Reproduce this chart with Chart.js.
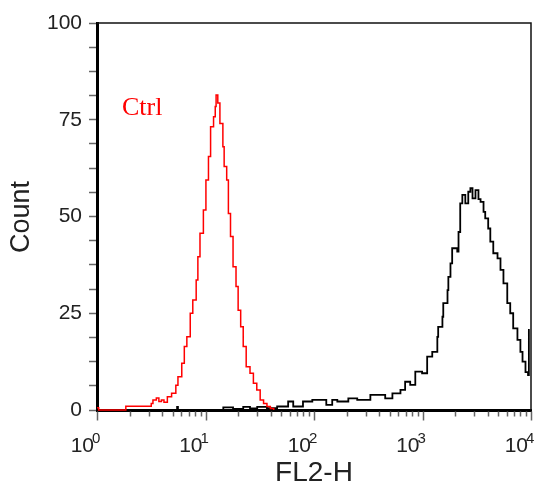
<!DOCTYPE html>
<html>
<head>
<meta charset="utf-8">
<script src="https://cdn.jsdelivr.net/npm/chart.js@4/dist/chart.umd.min.js"></script>
<style>
  html, body { margin: 0; padding: 0; background: #fff; }
  #wrap { width: 535px; height: 491px; }
</style>
</head>
<body>
<div id="wrap"><canvas id="c" width="535" height="491"></canvas></div>
<script>
// FL2-H histograms, 1024 channels spread over four log decades (256 channels per decade).
// Each pair marks the channel where a histogram step starts and the count held from there.
const ctrlChannels = [0, 4, 68, 128, 132, 140, 146, 152, 158, 166,
  176, 186, 191, 200, 206, 212, 220, 226, 234, 238,
  243, 251, 257, 263, 268, 275, 279, 281, 285, 290,
  297, 300, 306, 310, 315, 321, 328, 333, 339, 345,
  352, 361, 369, 377, 385, 393, 401, 409, 417];
const ctrlCounts = [0.6, 0, 1, 1.7, 2.6, 3.1, 2.2, 2.6, 2.0, 3.4,
  4.3, 6.4, 8.6, 12.1, 16.4, 18.9, 25, 28.4, 33.6, 39.6,
  45.7, 51.7, 59.4, 65.5, 73.2, 75.8, 78.4, 81.4, 79.3, 74,
  68, 62.9, 59.4, 50.8, 44.8, 37, 31.9, 25.8, 21.5, 16.4,
  11.2, 9.5, 6.9, 5.2, 2.6, 1.7, 0.9, 0.4, 0];

const sampleChannels = [186, 189, 191, 298, 321, 345, 361, 378, 401, 425,
  451, 463, 486, 508, 541, 555, 567, 593, 614, 645,
  680, 697, 716, 727, 739, 751, 767, 779, 791, 803,
  805, 815, 817, 827, 829, 834, 838, 850, 853, 857,
  862, 869, 876, 881, 886, 893, 900, 905, 912, 916,
  923, 928, 935, 945, 952, 959, 968, 975, 982, 992,
  999, 1004, 1011, 1017, 1019, 1021];
const sampleCounts = [0, 0.8, 0, 0.7, 0.3, 0.8, 0.4, 0.8, 0.5, 0.9,
  2.2, 0.9, 2.2, 2.6, 1.3, 2.6, 2.2, 3.0, 2.6, 3.9,
  3.0, 4.3, 5.2, 7.3, 6.5, 9.9, 9.5, 13.8, 15, 18.9,
  21.5, 24.1, 27.6, 31, 34.4, 37.9, 41.8, 40.9, 46, 53.4,
  55.6, 53.4, 56.4, 57.3, 54.7, 56.8, 54.5, 53.8, 51.2, 49.5,
  46.9, 43.5, 40.5, 39.2, 36.2, 32.7, 27.6, 25, 21.1, 18.1,
  15, 12.5, 9.8, 9.0, 20.7, 20.7];

const channelsPerDecade = 256;
const yTickLabels = [0, 25, 50, 75, 100];
const yMinorPerMajor = 4;
const xDecades = [0, 1, 2, 3, 4];
const xTickBase = '10';
const xTitle = 'FL2-H';
const yTitle = 'Count';
const ctrlName = 'Ctrl';

const toPoints = (chs, counts) =>
  chs.map((ch, i) => ({ x: Math.pow(10, ch / channelsPerDecade), y: counts[i] }));

const sansFont = '"Liberation Sans", Arial, sans-serif';

// Top/right frame, log tick marks, superscript decade labels and titles
const frameAndLabels = {
  id: 'frameAndLabels',
  afterDraw(chart) {
    const { ctx, chartArea: a, scales: { x } } = chart;
    ctx.save();

    ctx.strokeStyle = '#111';
    ctx.lineWidth = 1.5;
    ctx.beginPath();
    ctx.moveTo(a.left, a.top);
    ctx.lineTo(a.right, a.top);
    ctx.lineTo(a.right, a.bottom);
    ctx.stroke();

    ctx.strokeStyle = '#666';
    ctx.lineWidth = 1.5;
    xDecades.forEach((d, i) => {
      const last = i === xDecades.length - 1;
      for (let m = 1; m <= (last ? 1 : 9); m++) {
        const px = Math.round(x.getPixelForValue(m * Math.pow(10, d))) + 0.5;
        const len = m === 1 ? 9 : 5;
        ctx.beginPath();
        ctx.moveTo(px, a.bottom + 1.5);
        ctx.lineTo(px, a.bottom + 1.5 + len);
        ctx.stroke();
      }
    });

    ctx.fillStyle = '#222';
    ctx.textBaseline = 'alphabetic';
    xDecades.forEach(d => {
      const px = x.getPixelForValue(Math.pow(10, d));
      ctx.font = '21px ' + sansFont;
      ctx.textAlign = 'right';
      ctx.fillText(xTickBase, px - 3, 452);
      ctx.font = '15px ' + sansFont;
      ctx.textAlign = 'left';
      ctx.fillText(String(d), px - 5, 443);
    });

    ctx.font = '28px ' + sansFont;
    ctx.textAlign = 'center';
    ctx.fillText(xTitle, x.getPixelForValue(100), 481);

    ctx.save();
    ctx.translate(22, 217);
    ctx.rotate(-Math.PI / 2);
    ctx.font = '27px ' + sansFont;
    ctx.textBaseline = 'middle';
    ctx.fillText(yTitle, 0, 0);
    ctx.restore();

    ctx.fillStyle = '#ff0000';
    ctx.font = '26px "Liberation Serif", "Times New Roman", serif';
    ctx.textAlign = 'left';
    ctx.fillText(ctrlName, a.left + 25, 115);

    ctx.restore();
  }
};

new Chart(document.getElementById('c'), {
  type: 'line',
  data: {
    datasets: [
      {
        label: ctrlName,
        data: toPoints(ctrlChannels, ctrlCounts),
        borderColor: '#ff0000',
        borderWidth: 1.5,
        stepped: 'before',
        pointRadius: 0,
        fill: false,
        clip: 4
      },
      {
        label: 'Sample',
        data: toPoints(sampleChannels, sampleCounts),
        borderColor: '#000000',
        borderWidth: 1.8,
        stepped: 'before',
        pointRadius: 0,
        fill: false,
        clip: 4
      }
    ]
  },
  options: {
    responsive: false,
    animation: false,
    devicePixelRatio: 1,
    layout: { padding: { top: 23, right: 4, left: 0, bottom: 0 } },
    plugins: { legend: { display: false }, tooltip: { enabled: false } },
    scales: {
      x: {
        type: 'logarithmic',
        min: 1,
        max: 10000,
        grid: { display: false },
        ticks: { display: false },
        border: { display: true, color: '#000', width: 3 },
        afterFit(scale) { scale.height = 81; }
      },
      y: {
        type: 'linear',
        min: 0,
        max: 100,
        afterBuildTicks(scale) {
          const step = (yTickLabels[1] - yTickLabels[0]) / yMinorPerMajor;
          const ticks = [];
          const top = yTickLabels[yTickLabels.length - 1];
          for (let v = yTickLabels[0]; v <= top + 1e-9; v += step) ticks.push({ value: v });
          scale.ticks = ticks;
        },
        ticks: {
          autoSkip: false,
          padding: 7,
          color: '#222',
          font: { family: sansFont, size: 21 },
          callback: v => (yTickLabels.includes(v) ? String(v) : '')
        },
        grid: {
          display: true,
          drawOnChartArea: false,
          drawTicks: true,
          tickLength: 8,
          tickColor: '#666',
          tickWidth: 1.5
        },
        border: { display: true, color: '#000', width: 3 },
        afterFit(scale) { scale.width = 97; }
      }
    }
  },
  plugins: [frameAndLabels]
});
</script>
</body>
</html>
